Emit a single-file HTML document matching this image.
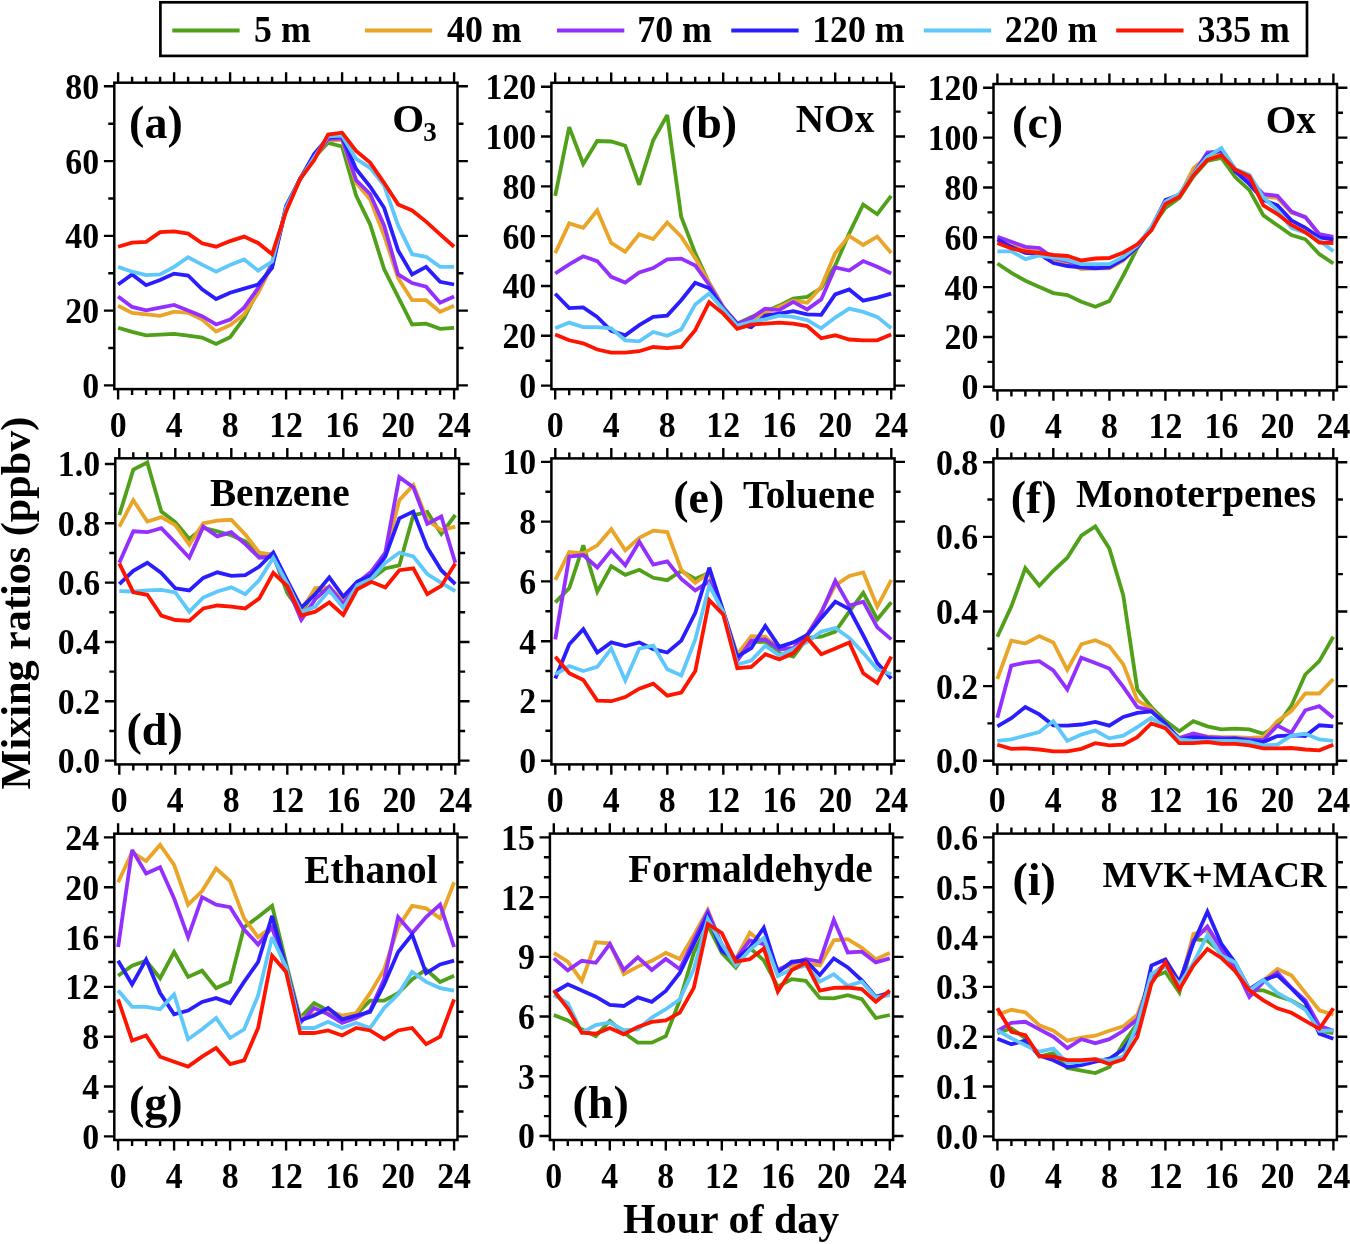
<!DOCTYPE html><html><head><meta charset="utf-8"><style>html,body{margin:0;padding:0;background:#fff;}svg{display:block;will-change:transform;}</style></head><body>
<svg width="1350" height="1244" viewBox="0 0 1350 1244" font-family='"Liberation Serif", serif' font-weight="bold">
<rect x="0" y="0" width="1350" height="1244" fill="#fff"/>
<rect x="160.4" y="2.3" width="1146.6" height="53.6" fill="none" stroke="#000" stroke-width="2.7"/>
<line x1="172.3" y1="30.6" x2="239.6" y2="30.6" stroke="#50A019" stroke-width="4"/>
<text transform="translate(254.1,41.8) scale(1,1.04)" font-size="35.8">5 m</text>
<line x1="364.9" y1="30.6" x2="432.2" y2="30.6" stroke="#EAA528" stroke-width="4"/>
<text transform="translate(447.0,41.8) scale(1,1.04)" font-size="35.8">40 m</text>
<line x1="557.0" y1="30.6" x2="624.3" y2="30.6" stroke="#9430FF" stroke-width="4"/>
<text transform="translate(637.3,41.8) scale(1,1.04)" font-size="35.8">70 m</text>
<line x1="731.3" y1="30.6" x2="798.6" y2="30.6" stroke="#2A1EFF" stroke-width="4"/>
<text transform="translate(812.2,41.8) scale(1,1.04)" font-size="35.8">120 m</text>
<line x1="923.8" y1="30.6" x2="991.1" y2="30.6" stroke="#5FC8FA" stroke-width="4"/>
<text transform="translate(1004.8,41.8) scale(1,1.04)" font-size="35.8">220 m</text>
<line x1="1116.2" y1="30.6" x2="1183.5" y2="30.6" stroke="#FF1400" stroke-width="4"/>
<text transform="translate(1197.4,41.8) scale(1,1.04)" font-size="35.8">335 m</text>
<clipPath id="ca"><rect x="114.3" y="82.7" width="343.2" height="306.4"/></clipPath>
<g clip-path="url(#ca)" fill="none" stroke-width="3.8" stroke-linejoin="miter" stroke-miterlimit="3">
<polyline points="118.1,327.8 132.1,331.9 146.1,335.3 160.1,334.6 174.1,333.8 188.1,335.7 202.1,337.5 216.1,343.9 230.1,337.2 244.1,318.1 258.1,290.4 272.1,263.1 286.1,207.8 300.1,179.0 314.1,157.7 328.1,142.8 342.1,146.5 356.1,195.5 370.1,224.3 384.1,269.1 398.1,296.8 412.1,324.5 426.1,323.7 440.1,328.9 454.1,327.8" stroke="#50A019"/>
<polyline points="118.1,305.8 132.1,312.9 146.1,314.4 160.1,315.9 174.1,311.7 188.1,312.9 202.1,319.6 216.1,331.6 230.1,325.2 244.1,314.4 258.1,293.1 272.1,265.4 286.1,209.7 300.1,179.0 314.1,157.7 328.1,140.1 342.1,140.1 356.1,182.8 370.1,199.2 384.1,235.5 398.1,278.1 412.1,300.2 426.1,300.2 440.1,311.7 454.1,305.8" stroke="#EAA528"/>
<polyline points="118.1,296.4 132.1,306.9 146.1,310.3 160.1,307.6 174.1,305.0 188.1,310.6 202.1,316.2 216.1,324.5 230.1,319.6 244.1,307.6 258.1,288.2 272.1,265.4 286.1,207.8 300.1,179.0 314.1,157.7 328.1,139.0 342.1,138.3 356.1,180.1 370.1,194.0 384.1,225.4 398.1,274.4 412.1,283.0 426.1,286.7 440.1,302.8 454.1,296.4" stroke="#9430FF"/>
<polyline points="118.1,284.5 132.1,274.4 146.1,285.2 160.1,280.0 174.1,273.6 188.1,275.5 202.1,289.3 216.1,299.0 230.1,292.7 244.1,288.6 258.1,284.5 272.1,268.0 286.1,205.9 300.1,179.0 314.1,154.0 328.1,137.5 342.1,136.4 356.1,168.9 370.1,186.5 384.1,207.8 398.1,250.4 412.1,274.4 426.1,266.9 440.1,281.8 454.1,284.5" stroke="#2A1EFF"/>
<polyline points="118.1,266.9 132.1,271.7 146.1,275.1 160.1,274.4 174.1,266.9 188.1,257.2 202.1,264.6 216.1,271.7 230.1,265.0 244.1,259.4 258.1,270.6 272.1,261.6 286.1,207.8 300.1,179.0 314.1,157.7 328.1,136.4 342.1,135.7 356.1,158.8 370.1,167.8 384.1,185.4 398.1,225.4 412.1,254.2 426.1,256.8 440.1,266.9 454.1,266.9" stroke="#5FC8FA"/>
<polyline points="118.1,246.7 132.1,242.6 146.1,241.8 160.1,232.1 174.1,231.4 188.1,233.6 202.1,243.3 216.1,246.7 230.1,241.1 244.1,236.6 258.1,243.0 272.1,254.2 286.1,211.5 300.1,179.0 314.1,160.3 328.1,134.5 342.1,132.7 356.1,151.0 370.1,162.6 384.1,182.8 398.1,204.4 412.1,210.4 426.1,221.6 440.1,234.4 454.1,246.7" stroke="#FF1400"/>
</g>
<rect x="114.3" y="82.7" width="343.2" height="306.4" fill="none" stroke="#000" stroke-width="2.5"/>
<path d="M118.10 82.70V72.30M118.10 389.10V399.50M132.10 82.70V76.70M132.10 389.10V395.10M146.10 82.70V76.70M146.10 389.10V395.10M160.10 82.70V76.70M160.10 389.10V395.10M174.10 82.70V72.30M174.10 389.10V399.50M188.10 82.70V76.70M188.10 389.10V395.10M202.10 82.70V76.70M202.10 389.10V395.10M216.10 82.70V76.70M216.10 389.10V395.10M230.10 82.70V72.30M230.10 389.10V399.50M244.10 82.70V76.70M244.10 389.10V395.10M258.10 82.70V76.70M258.10 389.10V395.10M272.10 82.70V76.70M272.10 389.10V395.10M286.10 82.70V72.30M286.10 389.10V399.50M300.10 82.70V76.70M300.10 389.10V395.10M314.10 82.70V76.70M314.10 389.10V395.10M328.10 82.70V76.70M328.10 389.10V395.10M342.10 82.70V72.30M342.10 389.10V399.50M356.10 82.70V76.70M356.10 389.10V395.10M370.10 82.70V76.70M370.10 389.10V395.10M384.10 82.70V76.70M384.10 389.10V395.10M398.10 82.70V72.30M398.10 389.10V399.50M412.10 82.70V76.70M412.10 389.10V395.10M426.10 82.70V76.70M426.10 389.10V395.10M440.10 82.70V76.70M440.10 389.10V395.10M454.10 82.70V72.30M454.10 389.10V399.50M114.30 385.40H103.90M457.50 385.40H467.90M114.30 348.01H108.30M457.50 348.01H463.50M114.30 310.62H103.90M457.50 310.62H467.90M114.30 273.24H108.30M457.50 273.24H463.50M114.30 235.85H103.90M457.50 235.85H467.90M114.30 198.46H108.30M457.50 198.46H463.50M114.30 161.08H103.90M457.50 161.08H467.90M114.30 123.69H108.30M457.50 123.69H463.50M114.30 86.30H103.90M457.50 86.30H467.90" stroke="#000" stroke-width="2.4" fill="none"/>
<text transform="translate(99.1,397.8) scale(1,1.04)" font-size="33.8" text-anchor="end">0</text>
<text transform="translate(99.1,323.0) scale(1,1.04)" font-size="33.8" text-anchor="end">20</text>
<text transform="translate(99.1,248.2) scale(1,1.04)" font-size="33.8" text-anchor="end">40</text>
<text transform="translate(99.1,173.5) scale(1,1.04)" font-size="33.8" text-anchor="end">60</text>
<text transform="translate(99.1,98.7) scale(1,1.04)" font-size="33.8" text-anchor="end">80</text>
<text transform="translate(118.1,436.7) scale(1,1.04)" font-size="33.8" text-anchor="middle">0</text>
<text transform="translate(174.1,436.7) scale(1,1.04)" font-size="33.8" text-anchor="middle">4</text>
<text transform="translate(230.1,436.7) scale(1,1.04)" font-size="33.8" text-anchor="middle">8</text>
<text transform="translate(286.1,436.7) scale(1,1.04)" font-size="33.8" text-anchor="middle">12</text>
<text transform="translate(342.1,436.7) scale(1,1.04)" font-size="33.8" text-anchor="middle">16</text>
<text transform="translate(398.1,436.7) scale(1,1.04)" font-size="33.8" text-anchor="middle">20</text>
<text transform="translate(454.1,436.7) scale(1,1.04)" font-size="33.8" text-anchor="middle">24</text>
<clipPath id="cb"><rect x="551.4" y="82.8" width="343.2" height="306.4"/></clipPath>
<g clip-path="url(#cb)" fill="none" stroke-width="3.8" stroke-linejoin="miter" stroke-miterlimit="3">
<polyline points="555.2,195.8 569.2,127.1 583.2,163.9 597.2,141.0 611.2,141.5 625.2,145.7 639.2,184.8 653.2,140.3 667.2,115.1 681.2,216.7 695.2,253.1 709.2,283.0 723.2,307.1 737.2,323.8 751.2,316.9 765.2,311.9 779.2,305.6 793.2,298.7 807.2,296.9 821.2,288.2 835.2,265.5 849.2,233.4 863.2,204.5 877.2,214.2 891.2,195.8" stroke="#50A019"/>
<polyline points="555.2,253.1 569.2,223.4 583.2,227.9 597.2,210.5 611.2,242.9 625.2,251.8 639.2,234.2 653.2,239.1 667.2,222.5 681.2,236.6 695.2,258.1 709.2,283.0 723.2,307.1 737.2,323.8 751.2,319.3 765.2,313.1 779.2,306.9 793.2,300.7 807.2,302.7 821.2,286.7 835.2,253.1 849.2,235.9 863.2,244.9 877.2,236.6 891.2,253.1" stroke="#EAA528"/>
<polyline points="555.2,273.5 569.2,264.3 583.2,256.3 597.2,261.1 611.2,276.8 625.2,282.5 639.2,272.5 653.2,268.0 667.2,259.3 681.2,258.6 695.2,265.5 709.2,285.0 723.2,307.6 737.2,323.8 751.2,318.3 765.2,308.6 779.2,310.1 793.2,301.9 807.2,309.4 821.2,299.4 835.2,267.5 849.2,270.5 863.2,261.1 877.2,266.8 891.2,273.5" stroke="#9430FF"/>
<polyline points="555.2,293.7 569.2,308.1 583.2,307.4 597.2,316.9 611.2,330.8 625.2,335.3 639.2,325.1 653.2,316.9 667.2,315.6 681.2,300.2 695.2,282.7 709.2,288.2 723.2,308.9 737.2,324.1 751.2,327.1 765.2,315.6 779.2,313.6 793.2,311.1 807.2,314.4 821.2,314.9 835.2,294.4 849.2,289.5 863.2,300.7 877.2,297.7 891.2,293.7" stroke="#2A1EFF"/>
<polyline points="555.2,328.3 569.2,322.6 583.2,327.1 597.2,327.1 611.2,328.3 625.2,340.3 639.2,341.3 653.2,332.0 667.2,335.8 681.2,329.6 695.2,304.4 709.2,293.4 723.2,309.6 737.2,325.6 751.2,321.8 765.2,319.3 779.2,315.6 793.2,316.9 807.2,320.1 821.2,328.3 835.2,317.6 849.2,308.6 863.2,311.9 877.2,316.9 891.2,328.3" stroke="#5FC8FA"/>
<polyline points="555.2,334.5 569.2,340.3 583.2,343.3 597.2,349.5 611.2,352.7 625.2,352.7 639.2,351.2 653.2,347.0 667.2,348.2 681.2,347.0 695.2,330.1 709.2,302.2 723.2,313.6 737.2,328.8 751.2,324.6 765.2,323.6 779.2,322.6 793.2,323.6 807.2,326.1 821.2,338.3 835.2,335.3 849.2,339.5 863.2,340.3 877.2,340.3 891.2,334.5" stroke="#FF1400"/>
</g>
<rect x="551.4" y="82.8" width="343.2" height="306.4" fill="none" stroke="#000" stroke-width="2.5"/>
<path d="M555.20 82.80V72.40M555.20 389.20V399.60M569.20 82.80V76.80M569.20 389.20V395.20M583.20 82.80V76.80M583.20 389.20V395.20M597.20 82.80V76.80M597.20 389.20V395.20M611.20 82.80V72.40M611.20 389.20V399.60M625.20 82.80V76.80M625.20 389.20V395.20M639.20 82.80V76.80M639.20 389.20V395.20M653.20 82.80V76.80M653.20 389.20V395.20M667.20 82.80V72.40M667.20 389.20V399.60M681.20 82.80V76.80M681.20 389.20V395.20M695.20 82.80V76.80M695.20 389.20V395.20M709.20 82.80V76.80M709.20 389.20V395.20M723.20 82.80V72.40M723.20 389.20V399.60M737.20 82.80V76.80M737.20 389.20V395.20M751.20 82.80V76.80M751.20 389.20V395.20M765.20 82.80V76.80M765.20 389.20V395.20M779.20 82.80V72.40M779.20 389.20V399.60M793.20 82.80V76.80M793.20 389.20V395.20M807.20 82.80V76.80M807.20 389.20V395.20M821.20 82.80V76.80M821.20 389.20V395.20M835.20 82.80V72.40M835.20 389.20V399.60M849.20 82.80V76.80M849.20 389.20V395.20M863.20 82.80V76.80M863.20 389.20V395.20M877.20 82.80V76.80M877.20 389.20V395.20M891.20 82.80V72.40M891.20 389.20V399.60M551.40 385.60H541.00M894.60 385.60H905.00M551.40 360.69H545.40M894.60 360.69H900.60M551.40 335.78H541.00M894.60 335.78H905.00M551.40 310.88H545.40M894.60 310.88H900.60M551.40 285.97H541.00M894.60 285.97H905.00M551.40 261.06H545.40M894.60 261.06H900.60M551.40 236.15H541.00M894.60 236.15H905.00M551.40 211.24H545.40M894.60 211.24H900.60M551.40 186.33H541.00M894.60 186.33H905.00M551.40 161.42H545.40M894.60 161.42H900.60M551.40 136.52H541.00M894.60 136.52H905.00M551.40 111.61H545.40M894.60 111.61H900.60M551.40 86.70H541.00M894.60 86.70H905.00" stroke="#000" stroke-width="2.4" fill="none"/>
<text transform="translate(536.2,398.0) scale(1,1.04)" font-size="33.8" text-anchor="end">0</text>
<text transform="translate(536.2,348.2) scale(1,1.04)" font-size="33.8" text-anchor="end">20</text>
<text transform="translate(536.2,298.4) scale(1,1.04)" font-size="33.8" text-anchor="end">40</text>
<text transform="translate(536.2,248.6) scale(1,1.04)" font-size="33.8" text-anchor="end">60</text>
<text transform="translate(536.2,198.7) scale(1,1.04)" font-size="33.8" text-anchor="end">80</text>
<text transform="translate(536.2,148.9) scale(1,1.04)" font-size="33.8" text-anchor="end">100</text>
<text transform="translate(536.2,99.1) scale(1,1.04)" font-size="33.8" text-anchor="end">120</text>
<text transform="translate(555.2,436.8) scale(1,1.04)" font-size="33.8" text-anchor="middle">0</text>
<text transform="translate(611.2,436.8) scale(1,1.04)" font-size="33.8" text-anchor="middle">4</text>
<text transform="translate(667.2,436.8) scale(1,1.04)" font-size="33.8" text-anchor="middle">8</text>
<text transform="translate(723.2,436.8) scale(1,1.04)" font-size="33.8" text-anchor="middle">12</text>
<text transform="translate(779.2,436.8) scale(1,1.04)" font-size="33.8" text-anchor="middle">16</text>
<text transform="translate(835.2,436.8) scale(1,1.04)" font-size="33.8" text-anchor="middle">20</text>
<text transform="translate(891.2,436.8) scale(1,1.04)" font-size="33.8" text-anchor="middle">24</text>
<clipPath id="cc"><rect x="993.5" y="84.0" width="343.5" height="306.4"/></clipPath>
<g clip-path="url(#cc)" fill="none" stroke-width="3.8" stroke-linejoin="miter" stroke-miterlimit="3">
<polyline points="997.4,263.5 1011.4,272.9 1025.4,280.7 1039.4,286.9 1053.4,293.1 1067.4,295.1 1081.4,301.8 1095.4,306.8 1109.4,301.1 1123.4,275.4 1137.4,248.0 1151.4,227.8 1165.4,207.9 1179.4,197.9 1193.4,176.5 1207.4,160.8 1221.4,157.8 1235.4,177.3 1249.4,190.2 1263.4,215.4 1277.4,225.3 1291.4,235.1 1305.4,239.3 1319.4,254.2 1333.4,263.5" stroke="#50A019"/>
<polyline points="997.4,240.5 1011.4,245.5 1025.4,250.5 1039.4,251.8 1053.4,259.2 1067.4,263.0 1081.4,269.2 1095.4,268.4 1109.4,268.4 1123.4,260.5 1137.4,246.8 1151.4,227.8 1165.4,202.9 1179.4,196.2 1193.4,168.3 1207.4,156.6 1221.4,152.6 1235.4,170.3 1249.4,179.0 1263.4,196.7 1277.4,197.9 1291.4,212.9 1305.4,216.6 1319.4,235.1 1333.4,240.5" stroke="#EAA528"/>
<polyline points="997.4,236.8 1011.4,241.8 1025.4,246.8 1039.4,248.0 1053.4,258.0 1067.4,261.2 1081.4,265.0 1095.4,266.0 1109.4,265.5 1123.4,259.2 1137.4,246.8 1151.4,227.8 1165.4,201.7 1179.4,195.4 1193.4,174.0 1207.4,152.6 1221.4,151.3 1235.4,170.8 1249.4,180.2 1263.4,194.2 1277.4,195.9 1291.4,211.6 1305.4,217.4 1319.4,234.1 1333.4,236.8" stroke="#9430FF"/>
<polyline points="997.4,239.3 1011.4,246.8 1025.4,253.0 1039.4,254.2 1053.4,263.0 1067.4,266.0 1081.4,267.4 1095.4,268.4 1109.4,267.4 1123.4,259.2 1137.4,246.8 1151.4,227.8 1165.4,199.9 1179.4,194.7 1193.4,174.0 1207.4,155.3 1221.4,149.6 1235.4,171.5 1249.4,184.2 1263.4,199.9 1277.4,205.4 1291.4,220.4 1305.4,227.8 1319.4,237.5 1333.4,239.3" stroke="#2A1EFF"/>
<polyline points="997.4,251.3 1011.4,251.3 1025.4,259.2 1039.4,255.5 1053.4,257.5 1067.4,260.0 1081.4,264.2 1095.4,264.2 1109.4,264.2 1123.4,256.7 1137.4,245.5 1151.4,226.6 1165.4,201.7 1179.4,193.9 1193.4,174.0 1207.4,156.6 1221.4,148.1 1235.4,169.0 1249.4,174.8 1263.4,197.4 1277.4,210.4 1291.4,227.8 1305.4,232.8 1319.4,240.5 1333.4,251.3" stroke="#5FC8FA"/>
<polyline points="997.4,243.0 1011.4,248.5 1025.4,251.3 1039.4,253.0 1053.4,255.0 1067.4,256.0 1081.4,260.5 1095.4,258.5 1109.4,258.0 1123.4,252.5 1137.4,244.3 1151.4,230.3 1165.4,204.2 1179.4,196.7 1193.4,175.3 1207.4,159.8 1221.4,155.3 1235.4,169.8 1249.4,176.5 1263.4,205.4 1277.4,214.1 1291.4,224.8 1305.4,232.3 1319.4,242.5 1333.4,243.0" stroke="#FF1400"/>
</g>
<rect x="993.5" y="84.0" width="343.5" height="306.4" fill="none" stroke="#000" stroke-width="2.5"/>
<path d="M997.40 84.00V73.60M997.40 390.40V400.80M1011.40 84.00V78.00M1011.40 390.40V396.40M1025.40 84.00V78.00M1025.40 390.40V396.40M1039.40 84.00V78.00M1039.40 390.40V396.40M1053.40 84.00V73.60M1053.40 390.40V400.80M1067.40 84.00V78.00M1067.40 390.40V396.40M1081.40 84.00V78.00M1081.40 390.40V396.40M1095.40 84.00V78.00M1095.40 390.40V396.40M1109.40 84.00V73.60M1109.40 390.40V400.80M1123.40 84.00V78.00M1123.40 390.40V396.40M1137.40 84.00V78.00M1137.40 390.40V396.40M1151.40 84.00V78.00M1151.40 390.40V396.40M1165.40 84.00V73.60M1165.40 390.40V400.80M1179.40 84.00V78.00M1179.40 390.40V396.40M1193.40 84.00V78.00M1193.40 390.40V396.40M1207.40 84.00V78.00M1207.40 390.40V396.40M1221.40 84.00V73.60M1221.40 390.40V400.80M1235.40 84.00V78.00M1235.40 390.40V396.40M1249.40 84.00V78.00M1249.40 390.40V396.40M1263.40 84.00V78.00M1263.40 390.40V396.40M1277.40 84.00V73.60M1277.40 390.40V400.80M1291.40 84.00V78.00M1291.40 390.40V396.40M1305.40 84.00V78.00M1305.40 390.40V396.40M1319.40 84.00V78.00M1319.40 390.40V396.40M1333.40 84.00V73.60M1333.40 390.40V400.80M993.50 386.80H983.10M1337.00 386.80H1347.40M993.50 361.88H987.50M1337.00 361.88H1343.00M993.50 336.97H983.10M1337.00 336.97H1347.40M993.50 312.05H987.50M1337.00 312.05H1343.00M993.50 287.13H983.10M1337.00 287.13H1347.40M993.50 262.22H987.50M1337.00 262.22H1343.00M993.50 237.30H983.10M1337.00 237.30H1347.40M993.50 212.38H987.50M1337.00 212.38H1343.00M993.50 187.47H983.10M1337.00 187.47H1347.40M993.50 162.55H987.50M1337.00 162.55H1343.00M993.50 137.63H983.10M1337.00 137.63H1347.40M993.50 112.72H987.50M1337.00 112.72H1343.00M993.50 87.80H983.10M1337.00 87.80H1347.40" stroke="#000" stroke-width="2.4" fill="none"/>
<text transform="translate(978.4,399.2) scale(1,1.04)" font-size="33.8" text-anchor="end">0</text>
<text transform="translate(978.4,349.4) scale(1,1.04)" font-size="33.8" text-anchor="end">20</text>
<text transform="translate(978.4,299.5) scale(1,1.04)" font-size="33.8" text-anchor="end">40</text>
<text transform="translate(978.4,249.7) scale(1,1.04)" font-size="33.8" text-anchor="end">60</text>
<text transform="translate(978.4,199.9) scale(1,1.04)" font-size="33.8" text-anchor="end">80</text>
<text transform="translate(978.4,150.0) scale(1,1.04)" font-size="33.8" text-anchor="end">100</text>
<text transform="translate(978.4,100.2) scale(1,1.04)" font-size="33.8" text-anchor="end">120</text>
<text transform="translate(997.4,438.0) scale(1,1.04)" font-size="33.8" text-anchor="middle">0</text>
<text transform="translate(1053.4,438.0) scale(1,1.04)" font-size="33.8" text-anchor="middle">4</text>
<text transform="translate(1109.4,438.0) scale(1,1.04)" font-size="33.8" text-anchor="middle">8</text>
<text transform="translate(1165.4,438.0) scale(1,1.04)" font-size="33.8" text-anchor="middle">12</text>
<text transform="translate(1221.4,438.0) scale(1,1.04)" font-size="33.8" text-anchor="middle">16</text>
<text transform="translate(1277.4,438.0) scale(1,1.04)" font-size="33.8" text-anchor="middle">20</text>
<text transform="translate(1333.4,438.0) scale(1,1.04)" font-size="33.8" text-anchor="middle">24</text>
<clipPath id="cd"><rect x="115.3" y="458.3" width="343.8" height="306.1"/></clipPath>
<g clip-path="url(#cd)" fill="none" stroke-width="3.8" stroke-linejoin="miter" stroke-miterlimit="3">
<polyline points="119.3,515.0 133.3,469.6 147.3,462.5 161.3,511.5 175.3,522.1 189.3,539.0 203.3,527.8 217.3,531.3 231.3,535.2 245.3,541.4 259.3,554.2 273.3,555.4 287.3,593.0 301.3,612.9 315.3,590.4 329.3,591.5 343.3,602.8 357.3,584.1 371.3,579.1 385.3,568.4 399.3,565.4 413.3,515.3 427.3,512.0 441.3,534.0 455.3,515.0" stroke="#50A019"/>
<polyline points="119.3,526.6 133.3,500.2 147.3,521.5 161.3,517.1 175.3,525.1 189.3,544.7 203.3,523.3 217.3,520.7 231.3,519.8 245.3,534.6 259.3,552.7 273.3,554.8 287.3,585.6 301.3,610.5 315.3,588.0 329.3,587.4 343.3,599.8 357.3,582.9 371.3,572.9 385.3,555.4 399.3,500.2 413.3,485.1 427.3,520.1 441.3,530.1 455.3,526.6" stroke="#EAA528"/>
<polyline points="119.3,562.8 133.3,531.3 147.3,532.2 161.3,528.1 175.3,542.6 189.3,557.7 203.3,526.6 217.3,536.4 231.3,532.2 245.3,544.1 259.3,557.7 273.3,556.5 287.3,587.1 301.3,619.7 315.3,599.2 329.3,586.5 343.3,604.3 357.3,582.9 371.3,571.7 385.3,552.7 399.3,477.1 413.3,487.1 427.3,523.9 441.3,516.5 455.3,562.8" stroke="#9430FF"/>
<polyline points="119.3,584.1 133.3,570.8 147.3,562.8 161.3,572.9 175.3,588.3 189.3,590.4 203.3,577.9 217.3,572.3 231.3,575.8 245.3,575.2 259.3,566.6 273.3,552.4 287.3,580.6 301.3,607.6 315.3,594.2 329.3,577.3 343.3,596.6 357.3,581.5 371.3,575.2 385.3,556.5 399.3,518.3 413.3,511.5 427.3,547.6 441.3,570.2 455.3,584.1" stroke="#2A1EFF"/>
<polyline points="119.3,591.2 133.3,591.5 147.3,590.4 161.3,589.8 175.3,592.4 189.3,611.7 203.3,597.5 217.3,591.5 231.3,587.4 245.3,594.2 259.3,580.0 273.3,557.7 287.3,583.5 301.3,612.3 315.3,606.7 329.3,590.4 343.3,607.9 357.3,585.3 371.3,579.1 385.3,562.8 399.3,552.7 413.3,556.5 427.3,574.0 441.3,582.9 455.3,591.2" stroke="#5FC8FA"/>
<polyline points="119.3,563.4 133.3,592.4 147.3,594.8 161.3,615.6 175.3,620.0 189.3,620.9 203.3,608.4 217.3,605.5 231.3,606.7 245.3,608.4 259.3,598.4 273.3,572.9 287.3,586.2 301.3,615.6 315.3,611.7 329.3,602.5 343.3,615.0 357.3,589.2 371.3,581.8 385.3,587.4 399.3,570.2 413.3,568.4 427.3,594.2 441.3,585.9 455.3,563.4" stroke="#FF1400"/>
</g>
<rect x="115.3" y="458.3" width="343.8" height="306.1" fill="none" stroke="#000" stroke-width="2.5"/>
<path d="M119.30 458.30V447.90M119.30 764.40V774.80M133.30 458.30V452.30M133.30 764.40V770.40M147.30 458.30V452.30M147.30 764.40V770.40M161.30 458.30V452.30M161.30 764.40V770.40M175.30 458.30V447.90M175.30 764.40V774.80M189.30 458.30V452.30M189.30 764.40V770.40M203.30 458.30V452.30M203.30 764.40V770.40M217.30 458.30V452.30M217.30 764.40V770.40M231.30 458.30V447.90M231.30 764.40V774.80M245.30 458.30V452.30M245.30 764.40V770.40M259.30 458.30V452.30M259.30 764.40V770.40M273.30 458.30V452.30M273.30 764.40V770.40M287.30 458.30V447.90M287.30 764.40V774.80M301.30 458.30V452.30M301.30 764.40V770.40M315.30 458.30V452.30M315.30 764.40V770.40M329.30 458.30V452.30M329.30 764.40V770.40M343.30 458.30V447.90M343.30 764.40V774.80M357.30 458.30V452.30M357.30 764.40V770.40M371.30 458.30V452.30M371.30 764.40V770.40M385.30 458.30V452.30M385.30 764.40V770.40M399.30 458.30V447.90M399.30 764.40V774.80M413.30 458.30V452.30M413.30 764.40V770.40M427.30 458.30V452.30M427.30 764.40V770.40M441.30 458.30V452.30M441.30 764.40V770.40M455.30 458.30V447.90M455.30 764.40V774.80M115.30 760.60H104.90M459.10 760.60H469.50M115.30 730.94H109.30M459.10 730.94H465.10M115.30 701.28H104.90M459.10 701.28H469.50M115.30 671.62H109.30M459.10 671.62H465.10M115.30 641.96H104.90M459.10 641.96H469.50M115.30 612.30H109.30M459.10 612.30H465.10M115.30 582.64H104.90M459.10 582.64H469.50M115.30 552.98H109.30M459.10 552.98H465.10M115.30 523.32H104.90M459.10 523.32H469.50M115.30 493.66H109.30M459.10 493.66H465.10M115.30 464.00H104.90M459.10 464.00H469.50" stroke="#000" stroke-width="2.4" fill="none"/>
<text transform="translate(100.1,773.0) scale(1,1.04)" font-size="33.8" text-anchor="end">0.0</text>
<text transform="translate(100.1,713.7) scale(1,1.04)" font-size="33.8" text-anchor="end">0.2</text>
<text transform="translate(100.1,654.4) scale(1,1.04)" font-size="33.8" text-anchor="end">0.4</text>
<text transform="translate(100.1,595.0) scale(1,1.04)" font-size="33.8" text-anchor="end">0.6</text>
<text transform="translate(100.1,535.7) scale(1,1.04)" font-size="33.8" text-anchor="end">0.8</text>
<text transform="translate(100.1,476.4) scale(1,1.04)" font-size="33.8" text-anchor="end">1.0</text>
<text transform="translate(119.3,812.0) scale(1,1.04)" font-size="33.8" text-anchor="middle">0</text>
<text transform="translate(175.3,812.0) scale(1,1.04)" font-size="33.8" text-anchor="middle">4</text>
<text transform="translate(231.3,812.0) scale(1,1.04)" font-size="33.8" text-anchor="middle">8</text>
<text transform="translate(287.3,812.0) scale(1,1.04)" font-size="33.8" text-anchor="middle">12</text>
<text transform="translate(343.3,812.0) scale(1,1.04)" font-size="33.8" text-anchor="middle">16</text>
<text transform="translate(399.3,812.0) scale(1,1.04)" font-size="33.8" text-anchor="middle">20</text>
<text transform="translate(455.3,812.0) scale(1,1.04)" font-size="33.8" text-anchor="middle">24</text>
<clipPath id="ce"><rect x="551.4" y="458.4" width="343.2" height="306.0"/></clipPath>
<g clip-path="url(#ce)" fill="none" stroke-width="3.8" stroke-linejoin="miter" stroke-miterlimit="3">
<polyline points="555.3,602.3 569.3,588.0 583.3,545.3 597.3,591.6 611.3,566.2 625.3,574.8 639.3,569.8 653.3,577.8 667.3,580.2 681.3,571.0 695.3,579.0 709.3,572.8 723.3,612.8 737.3,655.5 751.3,641.8 765.3,641.8 779.3,653.1 793.3,656.7 807.3,637.9 821.3,636.7 835.3,631.6 849.3,611.6 863.3,592.8 877.3,619.4 891.3,602.3" stroke="#50A019"/>
<polyline points="555.3,579.9 569.3,552.1 583.3,553.3 597.3,545.3 611.3,529.1 625.3,550.3 639.3,537.8 653.3,530.6 667.3,532.1 681.3,569.8 695.3,582.9 709.3,572.8 723.3,611.3 737.3,654.3 751.3,636.1 765.3,636.7 779.3,649.2 793.3,648.1 807.3,634.3 821.3,611.6 835.3,585.3 849.3,576.0 863.3,572.5 877.3,606.8 891.3,579.9" stroke="#EAA528"/>
<polyline points="555.3,639.4 569.3,556.6 583.3,555.1 597.3,567.4 611.3,550.3 625.3,565.3 639.3,541.7 653.3,564.7 667.3,561.4 681.3,579.0 695.3,590.4 709.3,581.4 723.3,614.3 737.3,660.6 751.3,640.6 765.3,639.4 779.3,649.2 793.3,648.1 807.3,634.9 821.3,612.8 835.3,580.8 849.3,605.6 863.3,601.7 877.3,627.4 891.3,639.4" stroke="#9430FF"/>
<polyline points="555.3,678.5 569.3,644.2 583.3,629.2 597.3,652.5 611.3,642.4 625.3,646.0 639.3,642.4 653.3,649.2 667.3,652.5 681.3,640.6 695.3,612.8 709.3,567.7 723.3,611.3 737.3,656.7 751.3,648.1 765.3,625.9 779.3,646.9 793.3,642.4 807.3,634.9 821.3,617.9 835.3,601.7 849.3,609.2 863.3,635.5 877.3,663.0 891.3,678.5" stroke="#2A1EFF"/>
<polyline points="555.3,674.3 569.3,666.0 583.3,671.1 597.3,666.9 611.3,648.6 625.3,680.6 639.3,648.6 653.3,645.7 667.3,669.3 681.3,675.5 695.3,639.4 709.3,585.6 723.3,611.9 737.3,664.5 751.3,660.6 765.3,645.7 779.3,655.5 793.3,649.2 807.3,641.8 821.3,631.6 835.3,628.0 849.3,637.9 863.3,653.1 877.3,669.3 891.3,674.3" stroke="#5FC8FA"/>
<polyline points="555.3,656.7 569.3,673.2 583.3,680.0 597.3,700.6 611.3,701.2 625.3,697.1 639.3,688.7 653.3,683.6 667.3,695.6 681.3,692.6 695.3,671.1 709.3,600.2 723.3,614.6 737.3,668.1 751.3,666.9 765.3,654.3 779.3,659.4 793.3,653.1 807.3,637.9 821.3,654.3 835.3,648.6 849.3,642.4 863.3,673.2 877.3,683.0 891.3,656.7" stroke="#FF1400"/>
</g>
<rect x="551.4" y="458.4" width="343.2" height="306.0" fill="none" stroke="#000" stroke-width="2.5"/>
<path d="M555.30 458.40V448.00M555.30 764.40V774.80M569.30 458.40V452.40M569.30 764.40V770.40M583.30 458.40V452.40M583.30 764.40V770.40M597.30 458.40V452.40M597.30 764.40V770.40M611.30 458.40V448.00M611.30 764.40V774.80M625.30 458.40V452.40M625.30 764.40V770.40M639.30 458.40V452.40M639.30 764.40V770.40M653.30 458.40V452.40M653.30 764.40V770.40M667.30 458.40V448.00M667.30 764.40V774.80M681.30 458.40V452.40M681.30 764.40V770.40M695.30 458.40V452.40M695.30 764.40V770.40M709.30 458.40V452.40M709.30 764.40V770.40M723.30 458.40V448.00M723.30 764.40V774.80M737.30 458.40V452.40M737.30 764.40V770.40M751.30 458.40V452.40M751.30 764.40V770.40M765.30 458.40V452.40M765.30 764.40V770.40M779.30 458.40V448.00M779.30 764.40V774.80M793.30 458.40V452.40M793.30 764.40V770.40M807.30 458.40V452.40M807.30 764.40V770.40M821.30 458.40V452.40M821.30 764.40V770.40M835.30 458.40V448.00M835.30 764.40V774.80M849.30 458.40V452.40M849.30 764.40V770.40M863.30 458.40V452.40M863.30 764.40V770.40M877.30 458.40V452.40M877.30 764.40V770.40M891.30 458.40V448.00M891.30 764.40V774.80M551.40 760.70H541.00M894.60 760.70H905.00M551.40 730.82H545.40M894.60 730.82H900.60M551.40 700.94H541.00M894.60 700.94H905.00M551.40 671.06H545.40M894.60 671.06H900.60M551.40 641.18H541.00M894.60 641.18H905.00M551.40 611.30H545.40M894.60 611.30H900.60M551.40 581.42H541.00M894.60 581.42H905.00M551.40 551.54H545.40M894.60 551.54H900.60M551.40 521.66H541.00M894.60 521.66H905.00M551.40 491.78H545.40M894.60 491.78H900.60M551.40 461.90H541.00M894.60 461.90H905.00" stroke="#000" stroke-width="2.4" fill="none"/>
<text transform="translate(536.2,773.1) scale(1,1.04)" font-size="33.8" text-anchor="end">0</text>
<text transform="translate(536.2,713.3) scale(1,1.04)" font-size="33.8" text-anchor="end">2</text>
<text transform="translate(536.2,653.6) scale(1,1.04)" font-size="33.8" text-anchor="end">4</text>
<text transform="translate(536.2,593.8) scale(1,1.04)" font-size="33.8" text-anchor="end">6</text>
<text transform="translate(536.2,534.1) scale(1,1.04)" font-size="33.8" text-anchor="end">8</text>
<text transform="translate(536.2,474.3) scale(1,1.04)" font-size="33.8" text-anchor="end">10</text>
<text transform="translate(555.3,812.0) scale(1,1.04)" font-size="33.8" text-anchor="middle">0</text>
<text transform="translate(611.3,812.0) scale(1,1.04)" font-size="33.8" text-anchor="middle">4</text>
<text transform="translate(667.3,812.0) scale(1,1.04)" font-size="33.8" text-anchor="middle">8</text>
<text transform="translate(723.3,812.0) scale(1,1.04)" font-size="33.8" text-anchor="middle">12</text>
<text transform="translate(779.3,812.0) scale(1,1.04)" font-size="33.8" text-anchor="middle">16</text>
<text transform="translate(835.3,812.0) scale(1,1.04)" font-size="33.8" text-anchor="middle">20</text>
<text transform="translate(891.3,812.0) scale(1,1.04)" font-size="33.8" text-anchor="middle">24</text>
<clipPath id="cf"><rect x="993.4" y="458.4" width="343.5" height="306.1"/></clipPath>
<g clip-path="url(#cf)" fill="none" stroke-width="3.8" stroke-linejoin="miter" stroke-miterlimit="3">
<polyline points="997.3,636.8 1011.3,606.6 1025.3,568.2 1039.3,585.7 1053.3,570.8 1067.3,557.7 1081.3,535.7 1095.3,526.4 1109.3,548.4 1123.3,595.4 1137.3,689.4 1151.3,707.0 1165.3,720.8 1179.3,731.2 1193.3,721.1 1207.3,726.4 1221.3,729.4 1235.3,728.6 1249.3,729.4 1263.3,733.8 1277.3,725.3 1291.3,705.9 1305.3,674.5 1319.3,661.1 1333.3,636.8" stroke="#50A019"/>
<polyline points="997.3,679.0 1011.3,640.6 1025.3,643.5 1039.3,636.1 1053.3,642.4 1067.3,670.0 1081.3,644.3 1095.3,640.2 1109.3,646.2 1123.3,664.4 1137.3,700.3 1151.3,708.8 1165.3,725.6 1179.3,737.9 1193.3,733.8 1207.3,736.4 1221.3,737.2 1235.3,737.2 1249.3,737.9 1263.3,737.2 1277.3,721.1 1291.3,711.1 1305.3,693.5 1319.3,693.5 1333.3,679.0" stroke="#EAA528"/>
<polyline points="997.3,717.8 1011.3,665.6 1025.3,662.6 1039.3,661.1 1053.3,670.4 1067.3,689.4 1081.3,657.7 1095.3,662.9 1109.3,668.5 1123.3,686.8 1137.3,707.0 1151.3,710.7 1165.3,724.5 1179.3,738.3 1193.3,733.5 1207.3,737.2 1221.3,737.9 1235.3,738.3 1249.3,739.4 1263.3,740.2 1277.3,725.6 1291.3,732.7 1305.3,710.3 1319.3,706.2 1333.3,717.8" stroke="#9430FF"/>
<polyline points="997.3,726.4 1011.3,718.2 1025.3,707.0 1039.3,714.4 1053.3,725.3 1067.3,725.6 1081.3,724.5 1095.3,721.9 1109.3,725.6 1123.3,717.0 1137.3,712.9 1151.3,711.4 1165.3,723.4 1179.3,739.4 1193.3,737.2 1207.3,738.3 1221.3,739.4 1235.3,738.3 1249.3,740.9 1263.3,742.0 1277.3,736.1 1291.3,735.3 1305.3,736.1 1319.3,725.3 1333.3,726.4" stroke="#2A1EFF"/>
<polyline points="997.3,740.9 1011.3,739.4 1025.3,735.7 1039.3,732.0 1053.3,721.1 1067.3,740.9 1081.3,734.6 1095.3,730.5 1109.3,738.3 1123.3,735.7 1137.3,727.1 1151.3,717.8 1165.3,727.1 1179.3,739.4 1193.3,740.9 1207.3,740.9 1221.3,740.9 1235.3,740.9 1249.3,742.0 1263.3,745.4 1277.3,744.7 1291.3,735.7 1305.3,733.8 1319.3,739.4 1333.3,740.9" stroke="#5FC8FA"/>
<polyline points="997.3,744.7 1011.3,748.8 1025.3,748.4 1039.3,749.5 1053.3,751.4 1067.3,751.4 1081.3,748.8 1095.3,743.2 1109.3,745.4 1123.3,744.7 1137.3,737.2 1151.3,723.4 1165.3,728.2 1179.3,743.2 1193.3,743.2 1207.3,742.0 1221.3,743.9 1235.3,743.9 1249.3,745.4 1263.3,748.4 1277.3,748.4 1291.3,748.0 1305.3,749.5 1319.3,750.3 1333.3,744.7" stroke="#FF1400"/>
</g>
<rect x="993.4" y="458.4" width="343.5" height="306.1" fill="none" stroke="#000" stroke-width="2.5"/>
<path d="M997.30 458.40V448.00M997.30 764.50V774.90M1011.30 458.40V452.40M1011.30 764.50V770.50M1025.30 458.40V452.40M1025.30 764.50V770.50M1039.30 458.40V452.40M1039.30 764.50V770.50M1053.30 458.40V448.00M1053.30 764.50V774.90M1067.30 458.40V452.40M1067.30 764.50V770.50M1081.30 458.40V452.40M1081.30 764.50V770.50M1095.30 458.40V452.40M1095.30 764.50V770.50M1109.30 458.40V448.00M1109.30 764.50V774.90M1123.30 458.40V452.40M1123.30 764.50V770.50M1137.30 458.40V452.40M1137.30 764.50V770.50M1151.30 458.40V452.40M1151.30 764.50V770.50M1165.30 458.40V448.00M1165.30 764.50V774.90M1179.30 458.40V452.40M1179.30 764.50V770.50M1193.30 458.40V452.40M1193.30 764.50V770.50M1207.30 458.40V452.40M1207.30 764.50V770.50M1221.30 458.40V448.00M1221.30 764.50V774.90M1235.30 458.40V452.40M1235.30 764.50V770.50M1249.30 458.40V452.40M1249.30 764.50V770.50M1263.30 458.40V452.40M1263.30 764.50V770.50M1277.30 458.40V448.00M1277.30 764.50V774.90M1291.30 458.40V452.40M1291.30 764.50V770.50M1305.30 458.40V452.40M1305.30 764.50V770.50M1319.30 458.40V452.40M1319.30 764.50V770.50M1333.30 458.40V448.00M1333.30 764.50V774.90M993.40 760.70H983.00M1336.90 760.70H1347.30M993.40 723.39H987.40M1336.90 723.39H1342.90M993.40 686.08H983.00M1336.90 686.08H1347.30M993.40 648.76H987.40M1336.90 648.76H1342.90M993.40 611.45H983.00M1336.90 611.45H1347.30M993.40 574.14H987.40M1336.90 574.14H1342.90M993.40 536.83H983.00M1336.90 536.83H1347.30M993.40 499.51H987.40M1336.90 499.51H1342.90M993.40 462.20H983.00M1336.90 462.20H1347.30" stroke="#000" stroke-width="2.4" fill="none"/>
<text transform="translate(978.2,773.1) scale(1,1.04)" font-size="33.8" text-anchor="end">0.0</text>
<text transform="translate(978.2,698.5) scale(1,1.04)" font-size="33.8" text-anchor="end">0.2</text>
<text transform="translate(978.2,623.9) scale(1,1.04)" font-size="33.8" text-anchor="end">0.4</text>
<text transform="translate(978.2,549.2) scale(1,1.04)" font-size="33.8" text-anchor="end">0.6</text>
<text transform="translate(978.2,474.6) scale(1,1.04)" font-size="33.8" text-anchor="end">0.8</text>
<text transform="translate(997.3,812.1) scale(1,1.04)" font-size="33.8" text-anchor="middle">0</text>
<text transform="translate(1053.3,812.1) scale(1,1.04)" font-size="33.8" text-anchor="middle">4</text>
<text transform="translate(1109.3,812.1) scale(1,1.04)" font-size="33.8" text-anchor="middle">8</text>
<text transform="translate(1165.3,812.1) scale(1,1.04)" font-size="33.8" text-anchor="middle">12</text>
<text transform="translate(1221.3,812.1) scale(1,1.04)" font-size="33.8" text-anchor="middle">16</text>
<text transform="translate(1277.3,812.1) scale(1,1.04)" font-size="33.8" text-anchor="middle">20</text>
<text transform="translate(1333.3,812.1) scale(1,1.04)" font-size="33.8" text-anchor="middle">24</text>
<clipPath id="cg"><rect x="114.3" y="833.7" width="343.2" height="306.3"/></clipPath>
<g clip-path="url(#cg)" fill="none" stroke-width="3.8" stroke-linejoin="miter" stroke-miterlimit="3">
<polyline points="118.1,975.7 132.1,965.7 146.1,960.7 160.1,978.2 174.1,952.0 188.1,976.9 202.1,970.7 216.1,988.1 230.1,981.9 244.1,927.1 258.1,917.1 272.1,905.9 286.1,963.2 300.1,1018.0 314.1,1003.1 328.1,1010.6 342.1,1020.5 356.1,1014.3 370.1,1000.6 384.1,1000.6 398.1,993.1 412.1,979.4 426.1,969.5 440.1,981.9 454.1,975.7" stroke="#50A019"/>
<polyline points="118.1,882.2 132.1,852.3 146.1,861.1 160.1,844.9 174.1,864.8 188.1,904.7 202.1,891.0 216.1,868.5 230.1,881.0 244.1,918.4 258.1,937.1 272.1,927.1 286.1,968.2 300.1,1018.0 314.1,1014.3 328.1,1010.6 342.1,1015.6 356.1,1013.1 370.1,993.1 384.1,969.5 398.1,927.1 412.1,905.9 426.1,908.4 440.1,918.4 454.1,882.2" stroke="#EAA528"/>
<polyline points="118.1,947.0 132.1,849.9 146.1,873.5 160.1,867.3 174.1,898.4 188.1,937.1 202.1,897.2 216.1,904.7 230.1,907.2 244.1,929.6 258.1,944.5 272.1,927.1 286.1,970.7 300.1,1023.0 314.1,1008.1 328.1,1014.3 342.1,1023.0 356.1,1018.0 370.1,1010.6 384.1,979.4 398.1,917.1 412.1,933.3 426.1,917.1 440.1,904.7 454.1,947.0" stroke="#9430FF"/>
<polyline points="118.1,960.7 132.1,984.4 146.1,959.5 160.1,993.1 174.1,1014.3 188.1,1010.6 202.1,1001.9 216.1,998.1 230.1,1003.1 244.1,981.9 258.1,962.0 272.1,915.9 286.1,967.0 300.1,1020.5 314.1,1015.6 328.1,1008.1 342.1,1019.3 356.1,1015.6 370.1,1011.8 384.1,984.4 398.1,952.0 412.1,934.6 426.1,973.2 440.1,964.5 454.1,960.7" stroke="#2A1EFF"/>
<polyline points="118.1,990.6 132.1,1006.8 146.1,1006.8 160.1,1009.3 174.1,994.4 188.1,1039.2 202.1,1029.3 216.1,1018.0 230.1,1038.0 244.1,1029.3 258.1,995.6 272.1,937.1 286.1,967.0 300.1,1028.0 314.1,1028.0 328.1,1021.8 342.1,1028.0 356.1,1023.0 370.1,1028.0 384.1,1008.1 398.1,994.4 412.1,972.0 426.1,981.9 440.1,988.1 454.1,990.6" stroke="#5FC8FA"/>
<polyline points="118.1,999.4 132.1,1040.5 146.1,1035.5 160.1,1056.7 174.1,1061.7 188.1,1066.6 202.1,1056.7 216.1,1047.9 230.1,1064.1 244.1,1060.4 258.1,1028.0 272.1,955.8 286.1,972.0 300.1,1033.0 314.1,1033.0 328.1,1030.5 342.1,1035.5 356.1,1028.0 370.1,1030.5 384.1,1039.2 398.1,1030.5 412.1,1028.0 426.1,1044.2 440.1,1036.7 454.1,999.4" stroke="#FF1400"/>
</g>
<rect x="114.3" y="833.7" width="343.2" height="306.3" fill="none" stroke="#000" stroke-width="2.5"/>
<path d="M118.10 833.70V823.30M118.10 1140.00V1150.40M132.10 833.70V827.70M132.10 1140.00V1146.00M146.10 833.70V827.70M146.10 1140.00V1146.00M160.10 833.70V827.70M160.10 1140.00V1146.00M174.10 833.70V823.30M174.10 1140.00V1150.40M188.10 833.70V827.70M188.10 1140.00V1146.00M202.10 833.70V827.70M202.10 1140.00V1146.00M216.10 833.70V827.70M216.10 1140.00V1146.00M230.10 833.70V823.30M230.10 1140.00V1150.40M244.10 833.70V827.70M244.10 1140.00V1146.00M258.10 833.70V827.70M258.10 1140.00V1146.00M272.10 833.70V827.70M272.10 1140.00V1146.00M286.10 833.70V823.30M286.10 1140.00V1150.40M300.10 833.70V827.70M300.10 1140.00V1146.00M314.10 833.70V827.70M314.10 1140.00V1146.00M328.10 833.70V827.70M328.10 1140.00V1146.00M342.10 833.70V823.30M342.10 1140.00V1150.40M356.10 833.70V827.70M356.10 1140.00V1146.00M370.10 833.70V827.70M370.10 1140.00V1146.00M384.10 833.70V827.70M384.10 1140.00V1146.00M398.10 833.70V823.30M398.10 1140.00V1150.40M412.10 833.70V827.70M412.10 1140.00V1146.00M426.10 833.70V827.70M426.10 1140.00V1146.00M440.10 833.70V827.70M440.10 1140.00V1146.00M454.10 833.70V823.30M454.10 1140.00V1150.40M114.30 1136.40H103.90M457.50 1136.40H467.90M114.30 1111.48H108.30M457.50 1111.48H463.50M114.30 1086.57H103.90M457.50 1086.57H467.90M114.30 1061.65H108.30M457.50 1061.65H463.50M114.30 1036.73H103.90M457.50 1036.73H467.90M114.30 1011.82H108.30M457.50 1011.82H463.50M114.30 986.90H103.90M457.50 986.90H467.90M114.30 961.98H108.30M457.50 961.98H463.50M114.30 937.07H103.90M457.50 937.07H467.90M114.30 912.15H108.30M457.50 912.15H463.50M114.30 887.23H103.90M457.50 887.23H467.90M114.30 862.32H108.30M457.50 862.32H463.50M114.30 837.40H103.90M457.50 837.40H467.90" stroke="#000" stroke-width="2.4" fill="none"/>
<text transform="translate(99.1,1148.8) scale(1,1.04)" font-size="33.8" text-anchor="end">0</text>
<text transform="translate(99.1,1099.0) scale(1,1.04)" font-size="33.8" text-anchor="end">4</text>
<text transform="translate(99.1,1049.1) scale(1,1.04)" font-size="33.8" text-anchor="end">8</text>
<text transform="translate(99.1,999.3) scale(1,1.04)" font-size="33.8" text-anchor="end">12</text>
<text transform="translate(99.1,949.5) scale(1,1.04)" font-size="33.8" text-anchor="end">16</text>
<text transform="translate(99.1,899.6) scale(1,1.04)" font-size="33.8" text-anchor="end">20</text>
<text transform="translate(99.1,849.8) scale(1,1.04)" font-size="33.8" text-anchor="end">24</text>
<text transform="translate(118.1,1187.6) scale(1,1.04)" font-size="33.8" text-anchor="middle">0</text>
<text transform="translate(174.1,1187.6) scale(1,1.04)" font-size="33.8" text-anchor="middle">4</text>
<text transform="translate(230.1,1187.6) scale(1,1.04)" font-size="33.8" text-anchor="middle">8</text>
<text transform="translate(286.1,1187.6) scale(1,1.04)" font-size="33.8" text-anchor="middle">12</text>
<text transform="translate(342.1,1187.6) scale(1,1.04)" font-size="33.8" text-anchor="middle">16</text>
<text transform="translate(398.1,1187.6) scale(1,1.04)" font-size="33.8" text-anchor="middle">20</text>
<text transform="translate(454.1,1187.6) scale(1,1.04)" font-size="33.8" text-anchor="middle">24</text>
<clipPath id="ch"><rect x="549.9" y="833.6" width="343.2" height="306.4"/></clipPath>
<g clip-path="url(#ch)" fill="none" stroke-width="3.8" stroke-linejoin="miter" stroke-miterlimit="3">
<polyline points="553.8,1015.0 567.8,1020.5 581.8,1029.3 595.8,1036.1 609.8,1020.9 623.8,1032.7 637.8,1042.6 651.8,1042.6 665.8,1036.1 679.8,1000.4 693.8,952.9 707.8,925.2 721.8,952.9 735.8,967.6 749.8,947.9 763.8,960.4 777.8,986.7 791.8,979.1 805.8,980.9 819.8,998.0 833.8,998.4 847.8,995.1 861.8,999.2 875.8,1018.0 889.8,1015.0" stroke="#50A019"/>
<polyline points="553.8,952.9 567.8,961.6 581.8,980.9 595.8,942.3 609.8,943.3 623.8,974.2 637.8,966.6 651.8,960.8 665.8,952.9 679.8,959.0 693.8,935.3 707.8,909.9 721.8,944.9 735.8,959.2 749.8,932.8 763.8,944.1 777.8,969.2 791.8,965.4 805.8,963.4 819.8,965.4 833.8,940.3 847.8,939.1 861.8,947.9 875.8,959.2 889.8,952.9" stroke="#EAA528"/>
<polyline points="553.8,958.4 567.8,970.4 581.8,960.8 595.8,962.8 609.8,944.1 623.8,970.0 637.8,957.4 651.8,970.0 665.8,959.0 679.8,969.2 693.8,940.3 707.8,911.5 721.8,944.9 735.8,959.2 749.8,940.3 763.8,944.1 777.8,970.4 791.8,962.8 805.8,959.2 819.8,961.6 833.8,919.8 847.8,952.5 861.8,951.7 875.8,962.4 889.8,958.4" stroke="#9430FF"/>
<polyline points="553.8,992.5 567.8,984.3 581.8,990.5 595.8,996.7 609.8,1005.0 623.8,1006.0 637.8,997.4 651.8,1001.8 665.8,990.9 679.8,973.0 693.8,944.1 707.8,915.2 721.8,950.9 735.8,959.2 749.8,947.9 763.8,927.8 777.8,972.4 791.8,961.6 805.8,960.8 819.8,975.0 833.8,958.4 847.8,967.4 861.8,980.3 875.8,996.7 889.8,992.5" stroke="#2A1EFF"/>
<polyline points="553.8,995.1 567.8,1003.0 581.8,1032.7 595.8,1025.1 609.8,1022.5 623.8,1030.1 637.8,1029.3 651.8,1017.6 665.8,1009.2 679.8,999.2 693.8,969.2 707.8,919.0 721.8,944.1 735.8,965.4 749.8,949.9 763.8,937.9 777.8,976.0 791.8,969.2 805.8,965.4 819.8,981.7 833.8,974.2 847.8,985.9 861.8,981.7 875.8,997.4 889.8,995.1" stroke="#5FC8FA"/>
<polyline points="553.8,990.5 567.8,1008.6 581.8,1032.7 595.8,1033.7 609.8,1028.1 623.8,1034.3 637.8,1026.9 651.8,1021.9 665.8,1020.5 679.8,1012.6 693.8,987.9 707.8,924.0 721.8,933.0 735.8,961.6 749.8,959.2 763.8,948.5 777.8,991.7 791.8,970.0 805.8,962.8 819.8,990.5 833.8,987.9 847.8,987.5 861.8,989.1 875.8,1001.8 889.8,990.5" stroke="#FF1400"/>
</g>
<rect x="549.9" y="833.6" width="343.2" height="306.4" fill="none" stroke="#000" stroke-width="2.5"/>
<path d="M553.80 833.60V823.20M553.80 1140.00V1150.40M567.80 833.60V827.60M567.80 1140.00V1146.00M581.80 833.60V827.60M581.80 1140.00V1146.00M595.80 833.60V827.60M595.80 1140.00V1146.00M609.80 833.60V823.20M609.80 1140.00V1150.40M623.80 833.60V827.60M623.80 1140.00V1146.00M637.80 833.60V827.60M637.80 1140.00V1146.00M651.80 833.60V827.60M651.80 1140.00V1146.00M665.80 833.60V823.20M665.80 1140.00V1150.40M679.80 833.60V827.60M679.80 1140.00V1146.00M693.80 833.60V827.60M693.80 1140.00V1146.00M707.80 833.60V827.60M707.80 1140.00V1146.00M721.80 833.60V823.20M721.80 1140.00V1150.40M735.80 833.60V827.60M735.80 1140.00V1146.00M749.80 833.60V827.60M749.80 1140.00V1146.00M763.80 833.60V827.60M763.80 1140.00V1146.00M777.80 833.60V823.20M777.80 1140.00V1150.40M791.80 833.60V827.60M791.80 1140.00V1146.00M805.80 833.60V827.60M805.80 1140.00V1146.00M819.80 833.60V827.60M819.80 1140.00V1146.00M833.80 833.60V823.20M833.80 1140.00V1150.40M847.80 833.60V827.60M847.80 1140.00V1146.00M861.80 833.60V827.60M861.80 1140.00V1146.00M875.80 833.60V827.60M875.80 1140.00V1146.00M889.80 833.60V823.20M889.80 1140.00V1150.40M549.90 1136.00H539.50M893.10 1136.00H903.50M549.90 1116.09H543.90M893.10 1116.09H899.10M549.90 1096.19H543.90M893.10 1096.19H899.10M549.90 1076.28H539.50M893.10 1076.28H903.50M549.90 1056.37H543.90M893.10 1056.37H899.10M549.90 1036.47H543.90M893.10 1036.47H899.10M549.90 1016.56H539.50M893.10 1016.56H903.50M549.90 996.65H543.90M893.10 996.65H899.10M549.90 976.75H543.90M893.10 976.75H899.10M549.90 956.84H539.50M893.10 956.84H903.50M549.90 936.93H543.90M893.10 936.93H899.10M549.90 917.03H543.90M893.10 917.03H899.10M549.90 897.12H539.50M893.10 897.12H903.50M549.90 877.21H543.90M893.10 877.21H899.10M549.90 857.31H543.90M893.10 857.31H899.10M549.90 837.40H539.50M893.10 837.40H903.50" stroke="#000" stroke-width="2.4" fill="none"/>
<text transform="translate(534.8,1148.4) scale(1,1.04)" font-size="33.8" text-anchor="end">0</text>
<text transform="translate(534.8,1088.7) scale(1,1.04)" font-size="33.8" text-anchor="end">3</text>
<text transform="translate(534.8,1029.0) scale(1,1.04)" font-size="33.8" text-anchor="end">6</text>
<text transform="translate(534.8,969.2) scale(1,1.04)" font-size="33.8" text-anchor="end">9</text>
<text transform="translate(534.8,909.5) scale(1,1.04)" font-size="33.8" text-anchor="end">12</text>
<text transform="translate(534.8,849.8) scale(1,1.04)" font-size="33.8" text-anchor="end">15</text>
<text transform="translate(553.8,1187.6) scale(1,1.04)" font-size="33.8" text-anchor="middle">0</text>
<text transform="translate(609.8,1187.6) scale(1,1.04)" font-size="33.8" text-anchor="middle">4</text>
<text transform="translate(665.8,1187.6) scale(1,1.04)" font-size="33.8" text-anchor="middle">8</text>
<text transform="translate(721.8,1187.6) scale(1,1.04)" font-size="33.8" text-anchor="middle">12</text>
<text transform="translate(777.8,1187.6) scale(1,1.04)" font-size="33.8" text-anchor="middle">16</text>
<text transform="translate(833.8,1187.6) scale(1,1.04)" font-size="33.8" text-anchor="middle">20</text>
<text transform="translate(889.8,1187.6) scale(1,1.04)" font-size="33.8" text-anchor="middle">24</text>
<clipPath id="ci"><rect x="993.4" y="833.6" width="343.5" height="306.4"/></clipPath>
<g clip-path="url(#ci)" fill="none" stroke-width="3.8" stroke-linejoin="miter" stroke-miterlimit="3">
<polyline points="997.4,1033.2 1011.4,1028.3 1025.4,1038.2 1039.4,1056.7 1053.4,1053.2 1067.4,1068.1 1081.4,1070.6 1095.4,1073.1 1109.4,1067.1 1123.4,1043.2 1137.4,1023.3 1151.4,977.9 1165.4,972.0 1179.4,992.4 1193.4,939.1 1207.4,940.6 1221.4,953.0 1235.4,966.5 1249.4,990.4 1263.4,990.4 1277.4,995.9 1291.4,1000.4 1305.4,1008.3 1319.4,1030.8 1333.4,1033.2" stroke="#50A019"/>
<polyline points="997.4,1014.8 1011.4,1009.8 1025.4,1012.3 1039.4,1025.3 1053.4,1030.8 1067.4,1040.7 1081.4,1037.7 1095.4,1035.7 1109.4,1030.8 1123.4,1026.3 1137.4,1014.8 1151.4,975.4 1165.4,965.5 1179.4,986.9 1193.4,934.1 1207.4,930.1 1221.4,948.0 1235.4,966.5 1249.4,992.9 1263.4,980.4 1277.4,969.0 1291.4,975.4 1305.4,992.9 1319.4,1010.3 1333.4,1014.8" stroke="#EAA528"/>
<polyline points="997.4,1030.8 1011.4,1022.8 1025.4,1021.8 1039.4,1029.3 1053.4,1036.7 1067.4,1048.2 1081.4,1039.2 1095.4,1043.2 1109.4,1039.2 1123.4,1030.8 1137.4,1019.3 1151.4,975.4 1165.4,964.0 1179.4,984.4 1193.4,940.6 1207.4,926.6 1221.4,949.0 1235.4,968.0 1249.4,996.9 1263.4,981.9 1277.4,972.4 1291.4,987.9 1305.4,1000.4 1319.4,1025.8 1333.4,1030.8" stroke="#9430FF"/>
<polyline points="997.4,1038.7 1011.4,1044.2 1025.4,1040.7 1039.4,1055.7 1053.4,1060.2 1067.4,1067.1 1081.4,1065.1 1095.4,1061.7 1109.4,1058.7 1123.4,1049.2 1137.4,1029.3 1151.4,965.5 1165.4,959.5 1179.4,981.9 1193.4,943.0 1207.4,911.7 1221.4,944.0 1235.4,963.0 1249.4,989.4 1263.4,979.9 1277.4,975.4 1291.4,988.4 1305.4,1002.8 1319.4,1033.7 1333.4,1038.7" stroke="#2A1EFF"/>
<polyline points="997.4,1030.3 1011.4,1038.2 1025.4,1045.2 1039.4,1051.7 1053.4,1048.7 1067.4,1063.1 1081.4,1061.7 1095.4,1059.2 1109.4,1060.7 1123.4,1056.7 1137.4,1024.3 1151.4,973.9 1165.4,966.5 1179.4,984.4 1193.4,963.0 1207.4,935.1 1221.4,955.5 1235.4,962.5 1249.4,990.4 1263.4,979.9 1277.4,992.9 1291.4,1000.9 1305.4,1009.8 1319.4,1030.8 1333.4,1030.3" stroke="#5FC8FA"/>
<polyline points="997.4,1008.3 1011.4,1031.8 1025.4,1035.2 1039.4,1056.2 1053.4,1056.7 1067.4,1060.2 1081.4,1060.2 1095.4,1059.2 1109.4,1064.1 1123.4,1059.2 1137.4,1036.7 1151.4,983.4 1165.4,962.5 1179.4,989.4 1193.4,965.5 1207.4,949.0 1221.4,958.0 1235.4,971.5 1249.4,990.4 1263.4,1000.4 1277.4,1008.3 1291.4,1012.8 1305.4,1020.8 1319.4,1028.8 1333.4,1008.3" stroke="#FF1400"/>
</g>
<rect x="993.4" y="833.6" width="343.5" height="306.4" fill="none" stroke="#000" stroke-width="2.5"/>
<path d="M997.40 833.60V823.20M997.40 1140.00V1150.40M1011.40 833.60V827.60M1011.40 1140.00V1146.00M1025.40 833.60V827.60M1025.40 1140.00V1146.00M1039.40 833.60V827.60M1039.40 1140.00V1146.00M1053.40 833.60V823.20M1053.40 1140.00V1150.40M1067.40 833.60V827.60M1067.40 1140.00V1146.00M1081.40 833.60V827.60M1081.40 1140.00V1146.00M1095.40 833.60V827.60M1095.40 1140.00V1146.00M1109.40 833.60V823.20M1109.40 1140.00V1150.40M1123.40 833.60V827.60M1123.40 1140.00V1146.00M1137.40 833.60V827.60M1137.40 1140.00V1146.00M1151.40 833.60V827.60M1151.40 1140.00V1146.00M1165.40 833.60V823.20M1165.40 1140.00V1150.40M1179.40 833.60V827.60M1179.40 1140.00V1146.00M1193.40 833.60V827.60M1193.40 1140.00V1146.00M1207.40 833.60V827.60M1207.40 1140.00V1146.00M1221.40 833.60V823.20M1221.40 1140.00V1150.40M1235.40 833.60V827.60M1235.40 1140.00V1146.00M1249.40 833.60V827.60M1249.40 1140.00V1146.00M1263.40 833.60V827.60M1263.40 1140.00V1146.00M1277.40 833.60V823.20M1277.40 1140.00V1150.40M1291.40 833.60V827.60M1291.40 1140.00V1146.00M1305.40 833.60V827.60M1305.40 1140.00V1146.00M1319.40 833.60V827.60M1319.40 1140.00V1146.00M1333.40 833.60V823.20M1333.40 1140.00V1150.40M993.40 1136.40H983.00M1336.90 1136.40H1347.30M993.40 1111.48H987.40M1336.90 1111.48H1342.90M993.40 1086.57H983.00M1336.90 1086.57H1347.30M993.40 1061.65H987.40M1336.90 1061.65H1342.90M993.40 1036.73H983.00M1336.90 1036.73H1347.30M993.40 1011.82H987.40M1336.90 1011.82H1342.90M993.40 986.90H983.00M1336.90 986.90H1347.30M993.40 961.98H987.40M1336.90 961.98H1342.90M993.40 937.07H983.00M1336.90 937.07H1347.30M993.40 912.15H987.40M1336.90 912.15H1342.90M993.40 887.23H983.00M1336.90 887.23H1347.30M993.40 862.32H987.40M1336.90 862.32H1342.90M993.40 837.40H983.00M1336.90 837.40H1347.30" stroke="#000" stroke-width="2.4" fill="none"/>
<text transform="translate(978.2,1148.8) scale(1,1.04)" font-size="33.8" text-anchor="end">0.0</text>
<text transform="translate(978.2,1099.0) scale(1,1.04)" font-size="33.8" text-anchor="end">0.1</text>
<text transform="translate(978.2,1049.1) scale(1,1.04)" font-size="33.8" text-anchor="end">0.2</text>
<text transform="translate(978.2,999.3) scale(1,1.04)" font-size="33.8" text-anchor="end">0.3</text>
<text transform="translate(978.2,949.5) scale(1,1.04)" font-size="33.8" text-anchor="end">0.4</text>
<text transform="translate(978.2,899.6) scale(1,1.04)" font-size="33.8" text-anchor="end">0.5</text>
<text transform="translate(978.2,849.8) scale(1,1.04)" font-size="33.8" text-anchor="end">0.6</text>
<text transform="translate(997.4,1187.6) scale(1,1.04)" font-size="33.8" text-anchor="middle">0</text>
<text transform="translate(1053.4,1187.6) scale(1,1.04)" font-size="33.8" text-anchor="middle">4</text>
<text transform="translate(1109.4,1187.6) scale(1,1.04)" font-size="33.8" text-anchor="middle">8</text>
<text transform="translate(1165.4,1187.6) scale(1,1.04)" font-size="33.8" text-anchor="middle">12</text>
<text transform="translate(1221.4,1187.6) scale(1,1.04)" font-size="33.8" text-anchor="middle">16</text>
<text transform="translate(1277.4,1187.6) scale(1,1.04)" font-size="33.8" text-anchor="middle">20</text>
<text transform="translate(1333.4,1187.6) scale(1,1.04)" font-size="33.8" text-anchor="middle">24</text>
<text x="129.1" y="137.5" font-size="46">(a)</text>
<text x="680.9" y="137.5" font-size="46">(b)</text>
<text x="1012.1" y="137.6" font-size="46">(c)</text>
<text x="126.5" y="745.0" font-size="46">(d)</text>
<text x="673.3" y="513.1" font-size="46">(e)</text>
<text x="1010.8" y="513.1" font-size="46">(f)</text>
<text x="128.9" y="1118.0" font-size="46">(g)</text>
<text x="572.5" y="1118.0" font-size="46">(h)</text>
<text x="1012.5" y="895.3" font-size="46">(i)</text>
<text x="795.7" y="131.5" font-size="39.3">NOx</text>
<text x="1265.7" y="133.1" font-size="39.3">Ox</text>
<text x="209.9" y="505.6" font-size="39.3">Benzene</text>
<text x="743.1" y="507.6" font-size="39.3">Toluene</text>
<text x="1076.0" y="506.8" font-size="39.3">Monoterpenes</text>
<text x="304.3" y="883.0" font-size="39.3">Ethanol</text>
<text x="628.2" y="882.3" font-size="39.3">Formaldehyde</text>
<text x="1102.4" y="886.9" font-size="36.6">MVK+MACR</text>
<text x="392.3" y="131.9" font-size="41">O</text>
<text transform="translate(423.2,141.2) scale(1,1.05)" font-size="27">3</text>
<text x="623.0" y="1232.8" font-size="42">Hour of day</text>
<text transform="translate(30.0,789.4) rotate(-90)" x="0" y="0" font-size="42.2">Mixing ratios (ppbv)</text>
</svg></body></html>
